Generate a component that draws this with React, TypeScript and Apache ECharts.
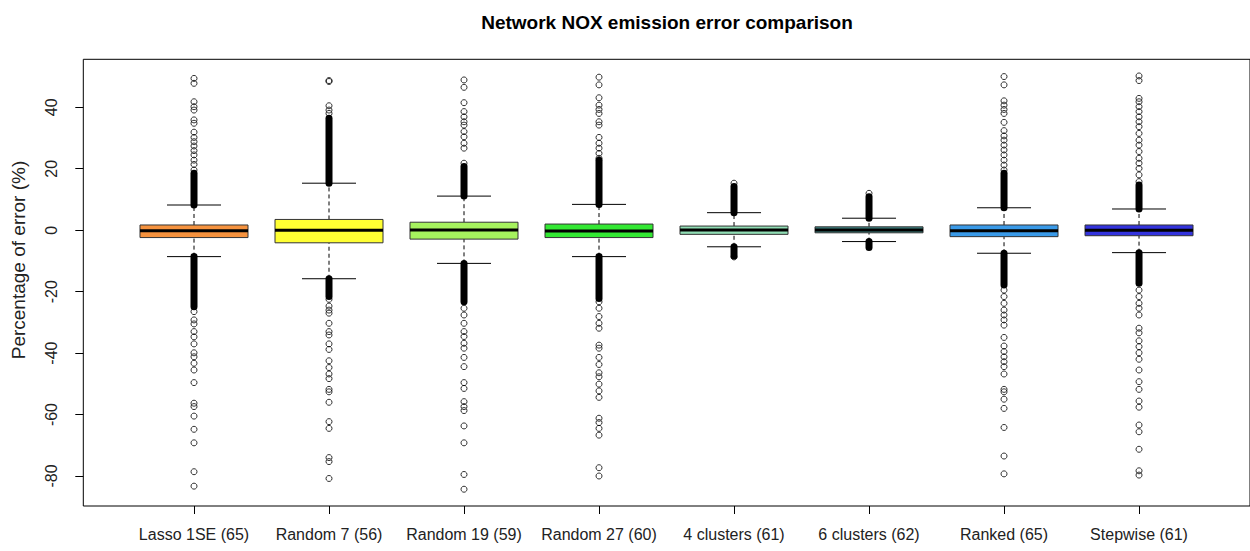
import React, { useEffect, useRef } from "react";
import * as echarts from "echarts";

const categories = [
  "Lasso 1SE (65)",
  "Random 7 (56)",
  "Random 19 (59)",
  "Random 27 (60)",
  "4 clusters (61)",
  "6 clusters (62)",
  "Ranked (65)",
  "Stepwise (61)",
];
const boxColors = ["#F5923E", "#FFFF33", "#A6F25E", "#33E833", "#90DDB4", "#3C8583", "#3A9AE8", "#3333DD"];

const whiskerLow = [-8.6, -15.8, -10.8, -8.6, -5.4, -3.7, -7.5, -7.3];
const q1 = [-2.4, -4.1, -2.9, -2.4, -1.35, -0.85, -2.1, -1.8];
const median = [-0.15, 0.0, 0.1, -0.25, 0.05, 0.1, -0.15, 0.0];
const q3 = [1.7, 3.5, 2.6, 2.0, 1.35, 1.1, 1.7, 1.7];
const whiskerHigh = [8.2, 15.3, 11.1, 8.4, 5.7, 3.9, 7.3, 6.9];

// ranges where outliers overlap into a solid column
const denseUpper = [
  [8.2, 18.5], [15.3, 36.4], [11.1, 20.7], [8.4, 22.8],
  [5.7, 14.2], [3.9, 10.9], [7.3, 18.5], [6.9, 14.7],
];
const denseLower = [
  [-8.6, -24.9], [-15.8, -21.6], [-10.8, -23.3], [-8.6, -22.2],
  [-5.4, -8.4], [-3.7, -5.6], [-7.5, -17.8], [-7.3, -17.3],
];

const outliers: number[][] = [
  [19.6, 21.4, 22.8, 24.5, 25.9, 27.4, 28.8, 30.2, 31.9, 34.8, 35.9, 39.1, 40.2, 41.8, 47.8, 49.4,
   -26.5, -29.2, -30.5, -33, -34.7, -37, -39.9, -41.2, -43.3, -45.5, -49.6, -56.3, -57.4, -60.5, -64.8, -69.2, -78.6, -83.3],
  [38, 39.1, 40.5, 48.4, 48.7,
   -22.5, -24.7, -26, -27, -30.3, -33, -34.1, -37, -38.8, -42.5, -44.7, -46.8, -48.3, -51.8, -52.6, -56, -62.3, -64.5, -74, -75.3, -80.8],
  [21.8, 26.7, 28.3, 30.4, 32.1, 34.2, 35.3, 36.9, 38.6, 41.5, 46.5, 48.9,
   -25.4, -27.6, -30.3, -33, -34.6, -36.8, -38.4, -41.4, -44.4, -49.6, -51.5, -55.8, -57.4, -58.7, -63.7, -69.2, -79.5, -84.3],
  [23.4, 25, 26.7, 28.3, 30.2, 34.2, 35.3, 38, 39.3, 40.7, 43.1, 47.3, 49.8,
   -23.3, -25.4, -28.1, -30.3, -31.9, -37.4, -38.4, -41.4, -43.7, -46.4, -47.7, -50.1, -52.3, -54.4, -61.2, -62.6, -64.5, -66.7, -77.3, -80],
  [15.3, -8.7],
  [12.0],
  [19.6, 21.2, 22.8, 24.5, 26.1, 27.7, 29.3, 30.7, 32.4, 35.1, 38, 39.3, 40.7, 42.1, 47.3, 50,
   -19.5, -21.6, -23.8, -26, -27.6, -29.2, -30.9, -34.9, -37.7, -39.5, -41.2, -42.8, -44.4, -46.8, -51.8, -52.6, -55, -58, -64.2, -73.5, -79.3],
  [15.8, 18, 20.1, 21.8, 23.4, 25.6, 27.7, 29.3, 31.5, 33.7, 35.3, 36.9, 38.6, 40.2, 41.8, 42.9, 48.7, 50.2,
   -19.5, -21.6, -23.8, -25.4, -27.6, -31.9, -33.4, -36, -37.9, -39.9, -42, -45.5, -49.3, -51.8, -55.6, -57.6, -63.4, -65.6, -71.3, -78.3, -79.7],
];

const yTicks = [-80, -60, -40, -20, 0, 20, 40];
const xTicks = [0, 1, 2, 3, 4, 5, 6, 7];

const FONT = "'Liberation Sans', Arial, sans-serif";

export default function App() {
  const ref = useRef<HTMLDivElement>(null);
  useEffect(() => {
    if (!ref.current) return;
    const chart = echarts.init(ref.current, null, { renderer: "svg" });

    const boxData = categories.map((_, i) => [i, whiskerLow[i], q1[i], median[i], q3[i], whiskerHigh[i]]);
    const denseData: number[][] = [];
    categories.forEach((_, i) => {
      denseData.push([i, denseUpper[i][0], denseUpper[i][1]]);
      denseData.push([i, denseLower[i][0], denseLower[i][1]]);
    });
    const outlierData: number[][] = [];
    outliers.forEach((arr, i) => arr.forEach((v) => outlierData.push([i, v])));

    const option: any = {
      animation: false,
      backgroundColor: "#fff",
      graphic: [
        {
          type: "text",
          x: 667,
          y: 22,
          style: {
            text: "Network NOX emission error comparison",
            font: `bold 19px ${FONT}`,
            fill: "#000",
            align: "center",
            verticalAlign: "middle",
          },
        },
        {
          type: "text",
          x: 18,
          y: 260,
          rotation: Math.PI / 2,
          style: {
            text: "Percentage of error (%)",
            font: `19px ${FONT}`,
            fill: "#222",
            align: "center",
            verticalAlign: "middle",
          },
        },
      ],
      grid: {
        left: 83.3,
        top: 59.3,
        right: -2,
        bottom: 45,
        show: true,
        borderColor: "#000",
        borderWidth: 1,
        backgroundColor: "transparent",
      },
      xAxis: {
        type: "value",
        min: -0.82,
        max: 7.822,
        splitLine: { show: false },
        axisLine: { show: false, onZero: false },
        axisTick: { show: true, customValues: xTicks, length: 8, lineStyle: { color: "#000" } },
        axisLabel: {
          customValues: xTicks,
          formatter: (v: number) => categories[Math.round(v)] ?? "",
          fontSize: 16,
          fontFamily: FONT,
          color: "#222",
          margin: 20,
        },
      },
      yAxis: {
        type: "value",
        min: -89.76,
        max: 55.62,
        splitLine: { show: false },
        axisLine: { show: false, onZero: false },
        axisTick: { show: true, customValues: yTicks, length: 8, lineStyle: { color: "#000" } },
        axisLabel: {
          customValues: yTicks,
          rotate: 90,
          fontSize: 16,
          fontFamily: FONT,
          color: "#222",
          margin: 24,
        },
      },
      series: [
        {
          type: "custom",
          data: boxData,
          renderItem: (params: any, api: any) => {
            const i = api.value(0);
            const unit = api.size([1, 0])[0];
            const pWL = api.coord([i, api.value(1)]);
            const pQ1 = api.coord([i, api.value(2)]);
            const pMed = api.coord([i, api.value(3)]);
            const pQ3 = api.coord([i, api.value(4)]);
            const pWH = api.coord([i, api.value(5)]);
            const cx = pMed[0];
            const hw = unit * 0.4;
            const sw = unit * 0.2;
            const color = boxColors[i];
            return {
              type: "group",
              children: [
                { type: "line", shape: { x1: cx, y1: pWL[1], x2: cx, y2: pQ1[1] }, style: { stroke: "#000", lineWidth: 1, lineDash: [4, 3] } },
                { type: "line", shape: { x1: cx, y1: pQ3[1], x2: cx, y2: pWH[1] }, style: { stroke: "#000", lineWidth: 1, lineDash: [4, 3] } },
                { type: "line", shape: { x1: cx - sw, y1: pWL[1], x2: cx + sw, y2: pWL[1] }, style: { stroke: "#000", lineWidth: 1 } },
                { type: "line", shape: { x1: cx - sw, y1: pWH[1], x2: cx + sw, y2: pWH[1] }, style: { stroke: "#000", lineWidth: 1 } },
                { type: "rect", shape: { x: cx - hw, y: pQ3[1], width: hw * 2, height: pQ1[1] - pQ3[1] }, style: { fill: color, stroke: "#333", lineWidth: 1 } },
                { type: "line", shape: { x1: cx - hw, y1: pMed[1], x2: cx + hw, y2: pMed[1] }, style: { stroke: "#000", lineWidth: 3 } },
              ],
            };
          },
          z: 2,
        },
        {
          type: "custom",
          data: denseData,
          renderItem: (params: any, api: any) => {
            const i = api.value(0);
            const a = api.coord([i, api.value(1)]);
            const b = api.coord([i, api.value(2)]);
            return {
              type: "line",
              shape: { x1: a[0], y1: a[1], x2: b[0], y2: b[1] },
              style: { stroke: "#000", lineWidth: 7, lineCap: "round" },
            };
          },
          z: 3,
        },
        {
          type: "scatter",
          data: outlierData,
          symbol: "circle",
          symbolSize: 6,
          itemStyle: { color: "rgba(0,0,0,0)", borderColor: "#000", borderWidth: 1 },
          z: 4,
        },
      ],
    };
    chart.setOption(option);
    return () => chart.dispose();
  }, []);
  return <div ref={ref} style={{ position: "fixed", left: 0, top: 0, width: 1250, height: 551 }} />;
}
